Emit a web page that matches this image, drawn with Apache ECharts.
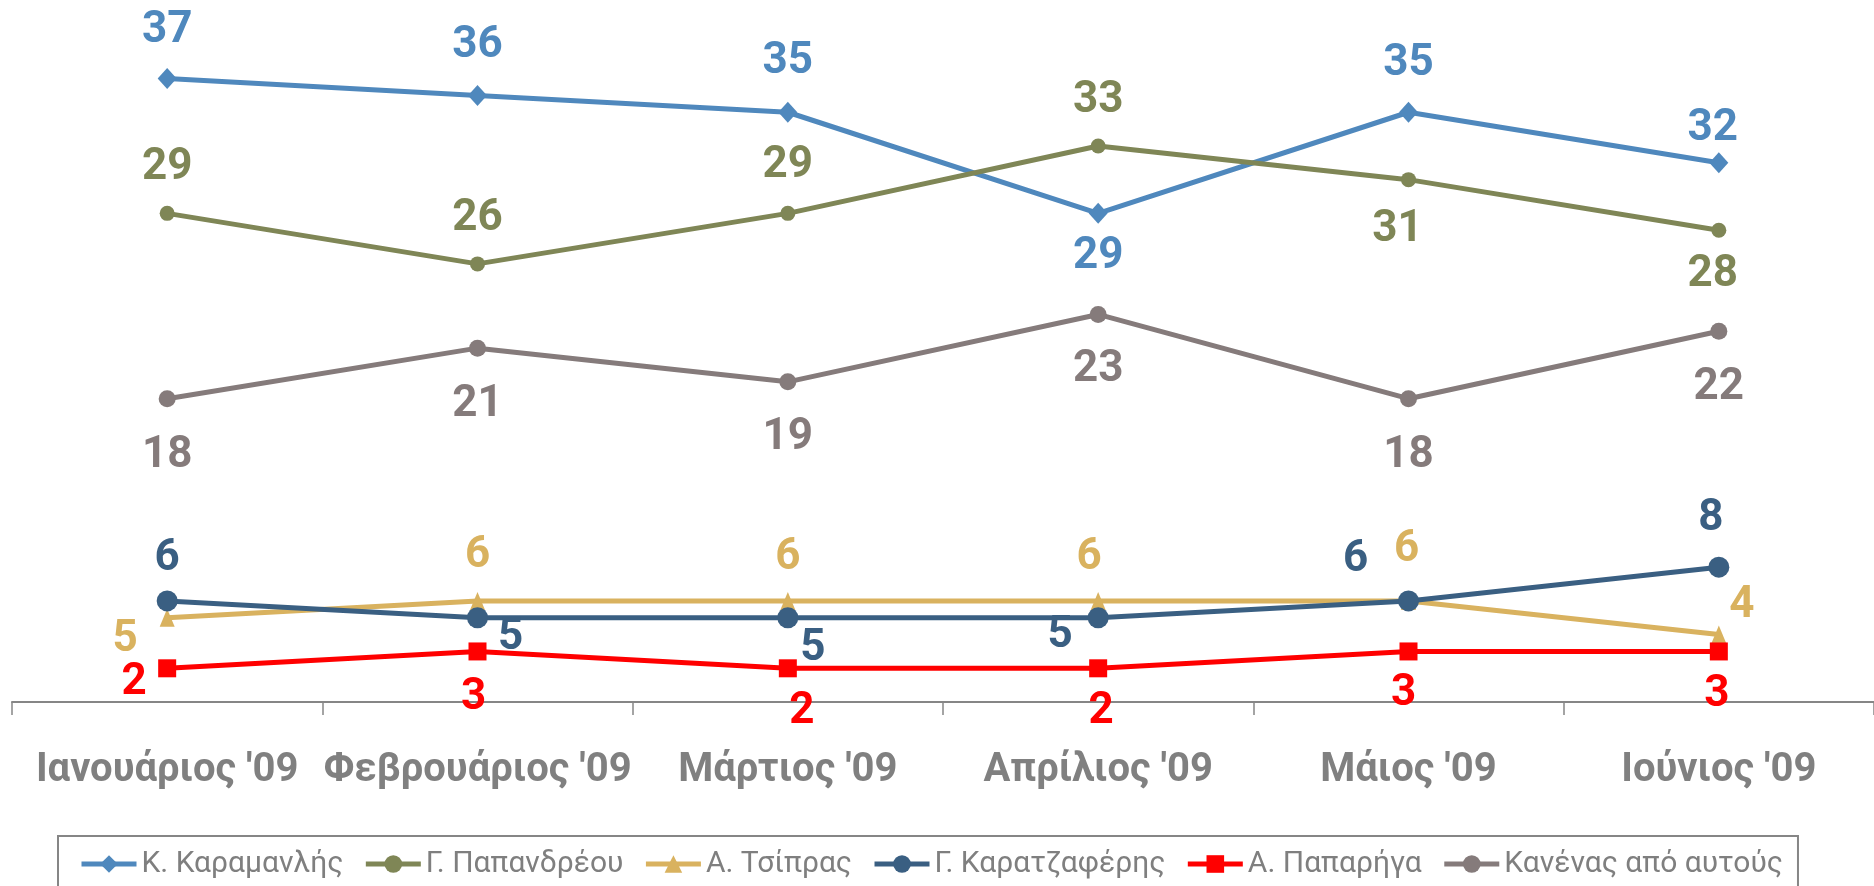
<!DOCTYPE html>
<html>
<head>
<meta charset="utf-8">
<script src="https://cdn.jsdelivr.net/npm/echarts@6/dist/echarts.min.js"></script>
<style>html,body{margin:0;padding:0;background:#fff}#chart{width:1874px;height:886px}</style>
</head>
<body>
<div id="chart"></div>
<script>
var months = ["Ιανουάριος '09", "Φεβρουάριος '09", "Μάρτιος '09", "Απρίλιος '09", "Μάιος '09", "Ιούνιος '09"];
var karamanlis = [37, 36, 35, 29, 35, 32];
var papandreou = [29, 26, 29, 33, 31, 28];
var tsipras = [5, 6, 6, 6, 6, 4];
var karatzaferis = [6, 5, 5, 5, 6, 8];
var papariga = [2, 3, 2, 2, 3, 3];
var kanenas = [18, 21, 19, 23, 18, 22];

// where each value label sits relative to its marker (px)
var nudge = {
    karamanlis: [[0,-51],[0,-52],[0,-53],[0,41],[0,-51],[-6,-37]],
    papandreou: [[0,-48],[0,-48],[0,-50],[0,-48],[-11,47],[-6,42]],
    tsipras: [[-42,19],[0,-48],[0,-46],[-9,-46],[-2,-54],[23,-32]],
    karatzaferis: [[0,-45],[33,17],[25,28],[-38,15],[-53,-44],[-8,-51]],
    papariga: [[-33,12],[-4,44],[14,41],[3,41],[-5,40],[-2,41]],
    kanenas: [[0,54],[0,54],[0,53],[0,53],[0,54],[0,54]]
};

function mkLine(name, values, off, color, symbol, size){
    return {
        name: name,
        type: 'line',
        data: values.map(function(v, i){ return {value: v, label: {offset: [off[i][0], off[i][1] + 3]}}; }),
        symbol: symbol,
        symbolSize: size,
        itemStyle: {color: color},
        lineStyle: {color: color, width: 5},
        label: {show: true, position: 'inside', color: color, fontSize: 44, fontWeight: 'bold', fontFamily: 'Roboto'},
        emphasis: {disabled: true}
    };
}

var chart = echarts.init(document.getElementById('chart'));
chart.setOption({
    animation: false,
    grid: {left: 12, right: 0, top: 28, bottom: 184, outerBoundsMode: 'none'},
    legend: {
        left: 58, top: 836,
        itemWidth: 55, itemHeight: 22, itemGap: 20,
        padding: [13, 15, 10, 21],
        borderColor: '#868686', borderWidth: 2,
        lineStyle: {width: 5},
        textStyle: {color: '#7f7f7f', fontSize: 30, fontFamily: 'Roboto'}
    },
    xAxis: {
        type: 'category',
        data: months,
        axisLine: {lineStyle: {color: '#868686', width: 2}},
        axisTick: {show: true, length: 13, lineStyle: {color: '#868686', width: 1.5}},
        axisLabel: {interval: 0, margin: 49, fontSize: 40, fontWeight: 'bold', color: '#808080', fontFamily: 'Roboto'}
    },
    yAxis: {type: 'value', min: 0, max: 40, show: false},
    series: [
        mkLine('Κ. Καραμανλής', karamanlis, nudge.karamanlis, '#4F88BD', 'diamond', [19, 21]),
        mkLine('Γ. Παπανδρέου', papandreou, nudge.papandreou, '#7F8656', 'circle', 15),
        mkLine('Α. Τσίπρας', tsipras, nudge.tsipras, '#D9B25F', 'triangle', [15, 18]),
        mkLine('Γ. Καρατζαφέρης', karatzaferis, nudge.karatzaferis, '#3A5F82', 'circle', 21),
        mkLine('Α. Παπαρήγα', papariga, nudge.papariga, '#FF0000', 'rect', 18),
        mkLine('Κανένας από αυτούς', kanenas, nudge.kanenas, '#857B7B', 'circle', 17)
    ]
});
</script>
</body>
</html>
